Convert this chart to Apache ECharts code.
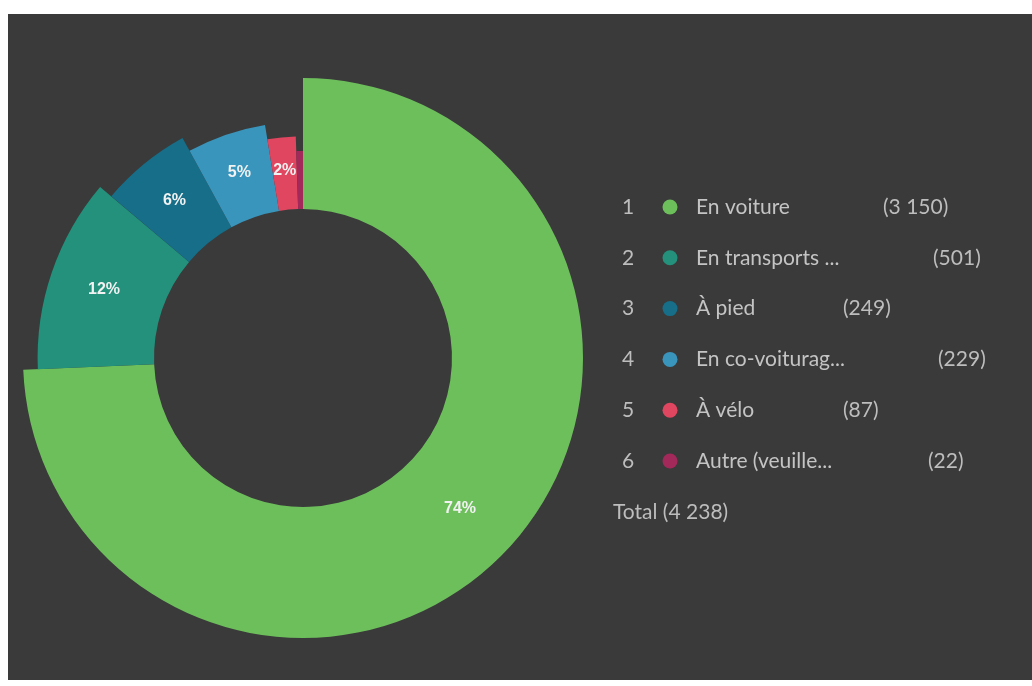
<!DOCTYPE html>
<html>
<head>
<meta charset="utf-8">
<script src="https://cdn.jsdelivr.net/npm/echarts@6/dist/echarts.min.js"></script>
<style>
html,body{margin:0;padding:0;background:#fff;}
#chart{width:1032px;height:686px;}
</style>
</head>
<body>
<div id="chart"></div>
<script>
// ---- data ----
const categories = ['En voiture', 'En transports ...', 'À pied', 'En co-voiturag...', 'À vélo', 'Autre (veuille...'];
const counts = [3150, 501, 249, 229, 87, 22];
const countLabels = ['(3 150)', '(501)', '(249)', '(229)', '(87)', '(22)'];
const totalLabel = 'Total (4 238)';

// ---- style ----
const colors = ['#6dbf5c', '#23917c', '#166e88', '#3a95bd', '#e0465f', '#a3295b'];
const countX = [883, 933, 843, 938, 843, 928];
const total = counts.reduce((a, b) => a + b, 0);

const center = [303, 358];
const inner = 149;
const outerBase = 280;
const outerStep = 14.6;

const series = categories.map((cat, i) => ({
  type: 'pie',
  silent: true,
  center: center,
  radius: [inner, outerBase - i * outerStep],
  startAngle: 90,
  clockwise: true,
  avoidLabelOverlap: false,
  animation: false,
  label: { show: false },
  labelLine: { show: false },
  data: categories.map((n, j) => ({
    name: n,
    value: counts[j],
    itemStyle: { color: j === i ? colors[j] : 'rgba(0,0,0,0)' },
    label: {
      show: j === i && counts[j] / total >= 0.015,
      position: 'inside',
      color: '#f2f2f2',
      fontFamily: 'Liberation Sans, Arial, sans-serif',
      fontWeight: 'bold',
      fontSize: 16,
      formatter: p => Math.round(p.value / total * 100) + '%'
    }
  }))
}));

const graphics = [
  { type: 'rect', z: -10, shape: { x: 8, y: 14, width: 1024, height: 666 }, style: { fill: '#3a3a3a' } }
];
const rowY0 = 207, rowGap = 50.8;
const txtFont = 'Lato, "Open Sans", sans-serif';
categories.forEach((cat, i) => {
  const y = rowY0 + i * rowGap;
  graphics.push({ type: 'text', style: { text: String(i + 1), x: 628, y: y, fill: '#bdbdbd', font: '21px ' + txtFont, textAlign: 'center', textVerticalAlign: 'middle' } });
  graphics.push({ type: 'circle', shape: { cx: 670, cy: y, r: 7.5 }, style: { fill: colors[i] } });
  graphics.push({ type: 'text', style: { text: cat, x: 696, y: y, fill: '#c4c4c4', font: '21px ' + txtFont, textVerticalAlign: 'middle' } });
  graphics.push({ type: 'text', style: { text: countLabels[i], x: countX[i], y: y, fill: '#bdbdbd', font: '21px ' + txtFont, textVerticalAlign: 'middle' } });
});
graphics.push({ type: 'text', style: { text: totalLabel, x: 613, y: rowY0 + 6 * rowGap, fill: '#bdbdbd', font: '21px ' + txtFont, textVerticalAlign: 'middle' } });

const chart = echarts.init(document.getElementById('chart'), null, { renderer: 'canvas' });
chart.setOption({
  backgroundColor: '#ffffff',
  animation: false,
  graphic: graphics,
  series: series
});
</script>
</body>
</html>
